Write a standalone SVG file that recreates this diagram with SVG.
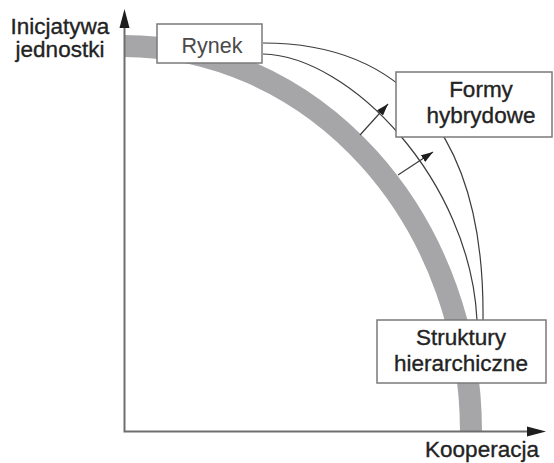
<svg xmlns="http://www.w3.org/2000/svg" width="554" height="463" viewBox="0 0 554 463">
<defs>
<style>
.box{fill:#fff;stroke:#7a7a7a;stroke-width:1.5}
.t{font-family:"Liberation Sans",Arial,sans-serif;font-size:22.5px;fill:#232323;stroke:#232323;stroke-width:0.35;text-anchor:middle}
.thin{fill:none;stroke:#3c3c3c;stroke-width:1.2}
.axis{fill:none;stroke:#6e6e6e;stroke-width:2}
.ahead{fill:#1e1e1e}
</style>
<marker id="ah" viewBox="0 0 12 8" refX="12" refY="4" markerWidth="12" markerHeight="8" orient="auto" markerUnits="userSpaceOnUse">
<path d="M0,0 L12,4 L0,8 Z" fill="#1e1e1e"/>
</marker>
</defs>
<rect width="554" height="463" fill="#fff"/>
<g id="band">
<path d="M124,46 A347,386 0 0 1 471,431" fill="none" stroke="#a6a6a9" stroke-width="22"/>
</g>
<g id="connectors">
<path class="thin" d="M263,43 C400,43 485,130 483,320"/>
<path class="thin" d="M263,54 C350,56 470,180 477,320"/>
<line class="thin" x1="360" y1="135" x2="388" y2="104" marker-end="url(#ah)"/>
<line class="thin" x1="398" y1="175" x2="433" y2="152" marker-end="url(#ah)"/>
</g>
<g id="axes">
<path class="axis" d="M124.5,26 V431.5 H528"/>
<path class="ahead" d="M124.5,9 L129.5,28 L119.5,28 Z"/>
<path class="ahead" d="M546,431.5 L527,426.5 L527,436.5 Z"/>
<text class="t" x="60" y="34">Inicjatywa</text>
<text class="t" x="60" y="57">jednostki</text>
<text class="t" x="482" y="457">Kooperacja</text>
</g>
<g id="rynek">
<rect class="box" x="157" y="24" width="105" height="39"/>
<text class="t" x="212" y="53" style="font-size:21.5px;fill:#4a4a4a;stroke:none">Rynek</text>
</g>
<g id="formy">
<rect class="box" x="396" y="72" width="156" height="65"/>
<text class="t" x="481" y="97">Formy</text>
<text class="t" x="481" y="123">hybrydowe</text>
</g>
<g id="struktury">
<rect class="box" x="377" y="320" width="169" height="63"/>
<text class="t" x="461" y="345">Struktury</text>
<text class="t" x="461" y="371">hierarchiczne</text>
</g>
</svg>
